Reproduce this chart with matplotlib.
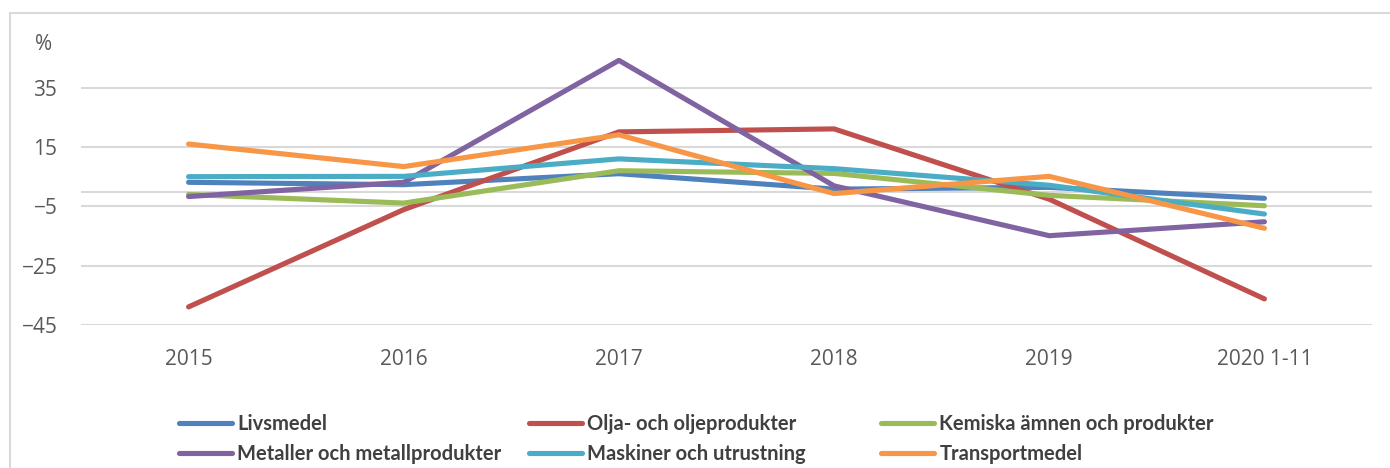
import matplotlib
matplotlib.use("Agg")
import matplotlib.pyplot as plt
from matplotlib.patches import Rectangle

categories = ["2015", "2016", "2017", "2018", "2019", "2020 1-11"]
series_names = ["Livsmedel", "Olja- och oljeprodukter", "Kemiska ämnen och produkter",
                "Metaller och metallprodukter", "Maskiner och utrustning", "Transportmedel"]
livsmedel = [3.1, 2.3, 6.0, 0.8, 1.4, -2.3]
olja = [-38.9, -6.1, 20.1, 21.1, -2.6, -36.2]
kemiska = [-1.0, -3.9, 7.0, 6.1, -1.3, -4.8]
metaller = [-1.7, 3.1, 44.2, 1.9, -14.9, -10.2]
maskiner = [5.0, 5.1, 11.0, 7.7, 2.1, -7.6]
transport = [16.0, 8.4, 19.1, -0.7, 5.1, -12.4]
yticks = [-45, -25, -5, 15, 35]

series = [livsmedel, olja, kemiska, metaller, maskiner, transport]
colors = ["#4F81BD", "#C0504D", "#9BBB59", "#8064A2", "#4BACC6", "#F79646"]

W, H = 1390, 468
fig = plt.figure(figsize=(W / 100, H / 100), dpi=100)
ax = fig.add_axes([81 / W, 1 - 325 / H, (1372 - 81) / W, (325 - 58) / H])

x = list(range(len(categories)))
handles = []
for vals, c, name in zip(series, colors, series_names):
    ln, = ax.plot(x, vals, color=c, lw=3.7, solid_capstyle="round",
                  solid_joinstyle="miter", label=name, zorder=3)
    handles.append(ln)

ax.set_xlim(-0.5, len(categories) - 0.5)
ax.set_ylim(-45, 45)
ax.set_yticks(yticks)
ax.set_xticks(x)
ax.set_xticklabels(categories)
ax.axhline(0, color="#D9D9D9", lw=1.5, zorder=1)
ax.grid(axis="y", color="#D9D9D9", lw=1.5, zorder=0)
for s in ax.spines.values():
    s.set_visible(False)
ax.tick_params(axis="both", length=0, colors="#595959", labelsize=15)
ax.tick_params(axis="y", pad=17)
ax.tick_params(axis="x", pad=17)
for lab in ax.get_xticklabels() + ax.get_yticklabels():
    lab.set_fontfamily("Open Sans")

fig.text(35 / W, 1 - 45 / H, "%", fontsize=15, color="#595959",
         family="Open Sans", va="center", ha="left")

# border of chart area
fig.patches.append(Rectangle((10 / W, -0.1), 1.2, 1.1 - 13 / H,
                             transform=fig.transFigure, fill=False,
                             edgecolor="#D9D9D9", lw=1.5))

# legend: three columns, placed individually
col_x = [179, 529, 881]
for i, cx in enumerate(col_x):
    hs = [handles[i], handles[i + 3]]
    leg = fig.legend(hs, [h.get_label() for h in hs], loc="upper left",
                     bbox_to_anchor=(cx / W, 1 - 414 / H), frameon=False,
                     handlelength=2.65, handletextpad=0.25, labelspacing=0.5,
                     borderpad=0, borderaxespad=0,
                     prop={"family": "Lato", "weight": "bold", "size": 14.5})
    for t in leg.get_texts():
        t.set_color("#404040")

fig.savefig("out.png", dpi=100, facecolor="white")
